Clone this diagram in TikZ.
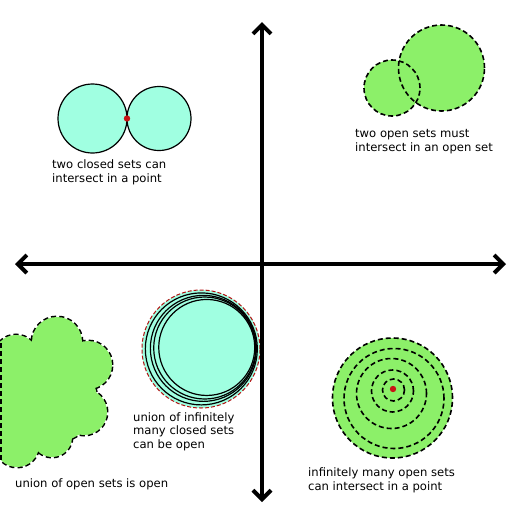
\documentclass[tikz,border=0pt]{standalone}
\usepackage{fontspec}
\setmainfont{DejaVu Sans}
\usetikzlibrary{arrows.meta}
\definecolor{closedfill}{RGB}{160,255,225}
\definecolor{openfill}{RGB}{140,240,105}
\definecolor{dotred}{RGB}{200,20,20}

\begin{document}
\begin{tikzpicture}[x=1pt, y=-1pt,
    axis/.style={line width=4pt, line cap=round, line join=round,
      {Straight Barb[length=9pt, width=18pt]}-{Straight Barb[length=9pt, width=18pt]}},
    closedset/.style={draw, fill=closedfill, line width=1.2pt},
    openline/.style={draw, dash pattern=on 5pt off 3pt, line width=1.6pt},
    blobline/.style={draw, dash pattern=on 5pt off 3pt, line width=3pt},
    lbl/.style={font=\fontsize{11.6}{13.5}\selectfont, align=left, inner sep=0pt, anchor=base west},
    dot/.style={fill=dotred}]
    \useasboundingbox (0,0) rectangle (523,523);

    % two closed sets touching
    \draw[closedset] (92.5,118.5) circle[radius=34.5pt];
    \draw[closedset] (159,118.5) circle[radius=32pt];
    \fill[dot] (127,118.5) circle[radius=3.2pt];
    \node[lbl] (tl) at (52,182) {two closed sets can\\intersect in a point};

    % two open sets overlapping
    \fill[openfill] (441.5,68) circle[radius=43pt] (392,88) circle[radius=28pt];
    \draw[openline] (441.5,68) circle[radius=43pt];
    \draw[openline] (392,88) circle[radius=28pt];
    \node[lbl] (tr) at (355,151) {two open sets must\\intersect in an open set};

    % union of open sets
    \foreach \bx/\by/\br in {16/357/22, 57/342/25, 88/365/24, 84/412/23, 52/437/20, 17/445/22, 55/400/42, 40/375/25}
      \draw[blobline] (\bx,\by) circle[radius=\br pt];
    \foreach \bx/\by/\br in {16/357/22, 57/342/25, 88/365/24, 84/412/23, 52/437/20, 17/445/22, 55/400/42, 40/375/25}
      \fill[openfill] (\bx,\by) circle[radius=\br pt];
    \fill[openfill] (0,345) rectangle (30,456);
    \draw[openline] (1,343) -- (1,462);
    \node[lbl] (bl) at (15,487) {union of open sets is open};

    % union of closed sets
    \coordinate (u) at (201,349);
    \fill[closedfill] (u) circle[radius=59pt];
    \draw[dotred!90!black, line width=1pt, dash pattern=on 4pt off 2pt] (u) circle[radius=59pt];
    \foreach \r [evaluate=\r as \s using 0.7*(56.5-\r)] in {56,53,51,48}
      \draw[line width=1.2pt] (u) ++(15:\s pt) circle[radius=\r pt];
    \node[lbl] (bm) at (133,448) {union of infinitely\\many closed sets\\can be open};

    % nested open sets
    \fill[openfill] (392.5,398) circle[radius=60pt];
    \foreach \cx/\cy/\r in {392.5/398/60, 394/398.5/50, 391.5/393.5/35, 392.5/391/21, 393.5/390/11}
      \draw[openline] (\cx,\cy) circle[radius=\r pt];
    \fill[dot] (393,389) circle[radius=3.2pt];
    \node[lbl] (br) at (308,490) {infinitely many open sets\\can intersect in a point};

    % axes
    \coordinate (top) at (262,22);
    \coordinate (bot) at (262,502);
    \coordinate (lft) at (15,264);
    \coordinate (rgt) at (506,264);
    \draw[axis] (bot) -- (top);
    \draw[axis] (lft) -- (rgt);
  \end{tikzpicture}
\end{document}
